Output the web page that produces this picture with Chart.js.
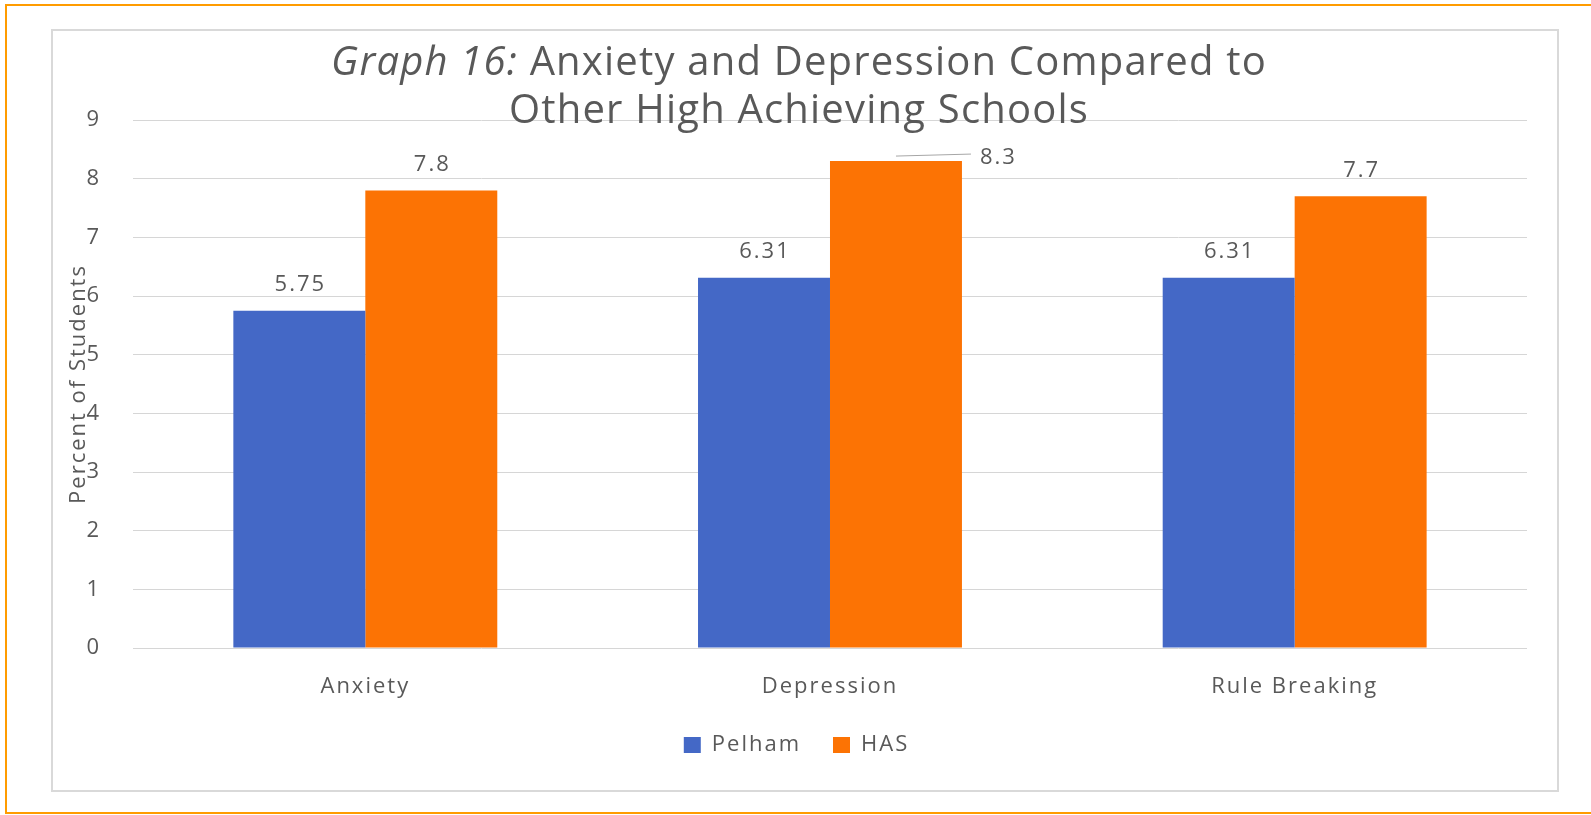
<!DOCTYPE html>
<html>
<head>
<meta charset="utf-8">
<script src="https://cdn.jsdelivr.net/npm/chart.js@4.4.1/dist/chart.umd.min.js"></script>
<style>
  html, body { margin: 0; padding: 0; background: #fff; }
  body { width: 1591px; height: 815px; position: relative; overflow: hidden; }
  .outer { position: absolute; left: 5px; top: 4px; width: 1640px; height: 810px; border: 2px solid #ff9c00; box-sizing: border-box; }
  .frame { position: absolute; left: 51px; top: 29px; width: 1508px; height: 763px; border: 2px solid #d9d9d9; box-sizing: border-box; }
  .holder { position: relative; width: 1504px; height: 759px; }
</style>
</head>
<body>
<div class="outer"></div>
<div class="frame">
  <div class="holder"><canvas id="graph16"></canvas></div>
</div>
<script>
  const categories = ["Anxiety", "Depression", "Rule Breaking"];
  const pelham = [5.75, 6.31, 6.31];
  const has = [7.8, 8.3, 7.7];
  const yTicks = [0, 1, 2, 3, 4, 5, 6, 7, 8, 9];

  const textGrey = "#595959";

  // the source picture has wide, loosely spaced text
  const wideText = {
    id: "wideText",
    beforeUpdate(chart, args, opts) { chart.ctx.letterSpacing = opts.spacing; },
    beforeDraw(chart, args, opts) { chart.ctx.letterSpacing = opts.spacing; }
  };

  // value labels above each bar, one of them pushed to the right with a leader line
  const barLabels = {
    id: "barLabels",
    afterDatasetsDraw(chart, args, opts) {
      const ctx = chart.ctx;
      ctx.save();
      ctx.font = opts.font;
      ctx.fillStyle = opts.color;
      ctx.textAlign = "left";
      ctx.textBaseline = "middle";
      chart.data.datasets.forEach((ds, i) => {
        chart.getDatasetMeta(i).data.forEach((bar, j) => {
          const text = String(ds.data[j]);
          const w = ctx.measureText(text).width;
          const moved = opts.moved.includes(i + "-" + j);
          if (moved) {
            const left = bar.x + bar.width / 2 + opts.sideGap;
            const y = bar.y + opts.sideDy;
            ctx.strokeStyle = opts.leaderColor;
            ctx.lineWidth = 1;
            ctx.beginPath();
            ctx.moveTo(bar.x, bar.y - 5);
            ctx.lineTo(left - 9, y - 4);
            ctx.stroke();
            ctx.fillText(text, left, y);
          } else {
            ctx.fillText(text, bar.x - w / 2 + 1, bar.y - opts.offset);
          }
        });
      });
      ctx.restore();
    }
  };

  // two line title, "Graph 16:" in italics
  const mixedTitle = {
    id: "mixedTitle",
    afterDraw(chart, args, opts) {
      const ctx = chart.ctx;
      const cx = chart.width / 2 + opts.dx;
      ctx.save();
      ctx.letterSpacing = opts.spacing;
      ctx.fillStyle = opts.color;
      ctx.textBaseline = "alphabetic";
      ctx.textAlign = "left";
      const italic = "italic " + opts.size + "px " + opts.family;
      const normal = opts.size + "px " + opts.family;
      ctx.font = italic;
      const w1 = ctx.measureText(opts.italicPart).width;
      ctx.font = normal;
      const w2 = ctx.measureText(opts.line1).width;
      const x = cx - (w1 + w2) / 2;
      ctx.font = italic;
      ctx.fillText(opts.italicPart, x, opts.y1);
      ctx.font = normal;
      ctx.fillText(opts.line1, x + w1, opts.y1);
      ctx.textAlign = "center";
      ctx.fillText(opts.line2, cx, opts.y2);
      ctx.restore();
    }
  };

  const ctx = document.getElementById("graph16");
  new Chart(ctx, {
    type: "bar",
    data: {
      labels: categories,
      datasets: [
        { label: "Pelham", data: pelham, backgroundColor: "#4468c6" },
        { label: "HAS", data: has, backgroundColor: "#fc7304" }
      ]
    },
    options: {
      responsive: true,
      maintainAspectRatio: false,
      animation: false,
      events: [],
      layout: { padding: { top: 89, right: 30, bottom: 24, left: 13 } },
      datasets: {
        bar: { categoryPercentage: 0.568, barPercentage: 1, borderWidth: 0 }
      },
      scales: {
        x: {
          grid: { display: false, drawTicks: false },
          border: { display: false },
          ticks: { color: textGrey, padding: 26, font: { family: "Open Sans", size: 22 } },
          afterFit(scale) { scale.height = 54; }
        },
        y: {
          min: 0,
          max: 9,
          afterBuildTicks(scale) {
            scale.ticks = yTicks.map(v => ({ value: v }));
          },
          grid: { color: "#d6d6d6", lineWidth: 1, drawTicks: false },
          border: { display: false },
          ticks: { color: textGrey, padding: 32, font: { family: "Open Sans", size: 22 } },
          title: {
            display: true,
            text: "Percent of Students",
            color: textGrey,
            padding: { top: 0, bottom: -38 },
            font: { family: "Open Sans", size: 22 }
          }
        }
      },
      plugins: {
        legend: {
          position: "bottom",
          labels: {
            color: textGrey,
            boxWidth: 17,
            boxHeight: 16,
            padding: 32,
            font: { family: "Open Sans", size: 22 }
          }
        },
        tooltip: { enabled: false },
        wideText: { spacing: "2px" },
        barLabels: {
          font: "22px 'Open Sans'",
          color: textGrey,
          offset: 26,
          leaderColor: "#a6a6a6",
          moved: ["1-1"],
          sideGap: 18,
          sideDy: -3
        },
        mixedTitle: {
          family: "'Open Sans'",
          size: 40,
          spacing: "1.2px",
          color: textGrey,
          dx: -6,
          y1: 44,
          y2: 92,
          italicPart: "Graph 16:",
          line1: " Anxiety and Depression Compared to",
          line2: "Other High Achieving Schools"
        }
      }
    },
    plugins: [wideText, barLabels, mixedTitle]
  });
</script>
</body>
</html>
